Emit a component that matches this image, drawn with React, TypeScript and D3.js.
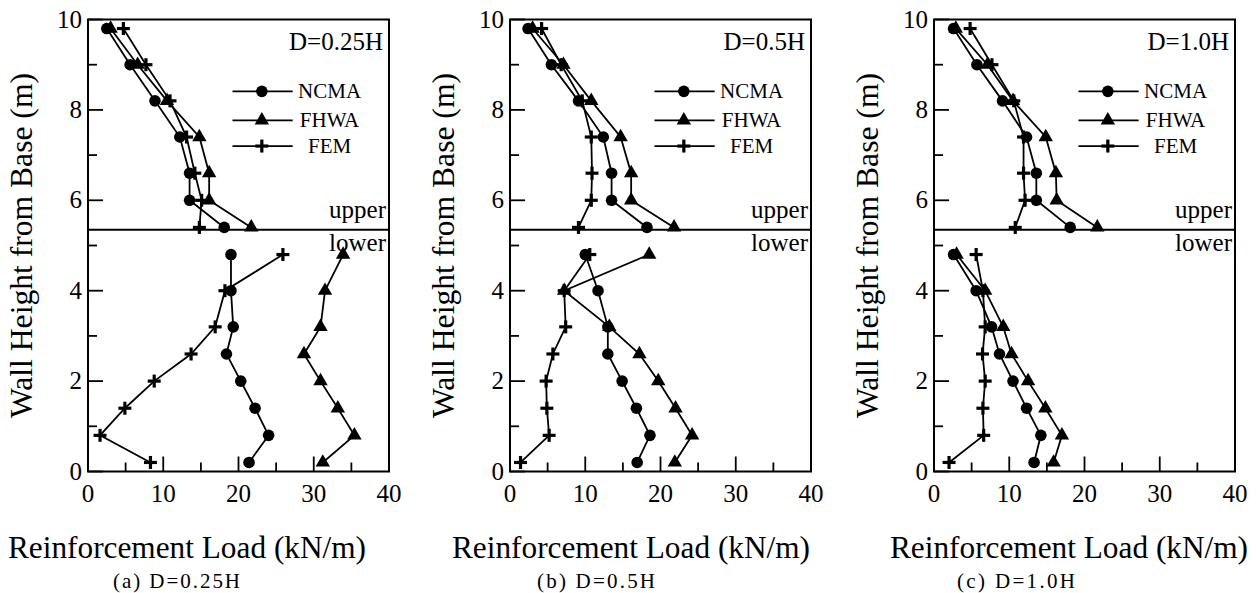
import * as d3 from 'd3'

// wall heights where loads were read (m)
const upperHeights = [9.8, 9.0, 8.2, 7.4, 6.6, 6.0, 5.4]
const lowerHeights = [4.8, 4.0, 3.2, 2.6, 2.0, 1.4, 0.8, 0.2]

// (a) D=0.25H
const ncmaUpperA = [2.5, 5.6, 8.9, 12.2, 13.5, 13.5, 18.1]
const ncmaLowerA = [19.0, 19.0, 19.3, 18.4, 20.3, 22.2, 24.0, 21.4]
const fhwaUpperA = [3.0, 6.6, 10.5, 14.8, 16.1, 16.1, 21.7]
const fhwaLowerA = [33.9, 31.5, 30.9, 28.7, 30.9, 33.2, 35.4, 31.2]
const femUpperA = [4.7, 7.7, 10.9, 13.1, 14.2, 15.1, 14.8]
const femLowerA = [25.9, 18.2, 16.9, 13.7, 8.8, 4.9, 1.6, 8.3]

// (b) D=0.5H
const ncmaUpperB = [2.4, 5.5, 9.1, 12.4, 13.5, 13.5, 18.2]
const ncmaLowerB = [10.0, 11.7, 13.0, 13.0, 14.9, 16.8, 18.6, 16.9]
const fhwaUpperB = [3.0, 7.1, 10.8, 14.7, 16.1, 16.1, 21.8]
const fhwaLowerB = [18.5, 7.2, 13.2, 17.2, 19.7, 22.0, 24.2, 21.9]
const femUpperB = [4.2, 6.8, 9.6, 10.8, 10.9, 10.8, 9.1]
const femLowerB = [10.6, 7.2, 7.4, 5.7, 4.8, 4.9, 5.2, 1.4]

// (c) D=1.0H
const ncmaUpperC = [2.6, 5.7, 9.1, 12.3, 13.6, 13.6, 18.1]
const ncmaLowerC = [2.6, 5.6, 7.65, 8.7, 10.5, 12.3, 14.2, 13.3]
const fhwaUpperC = [2.9, 7.1, 10.5, 14.85, 16.2, 16.3, 21.7]
const fhwaLowerC = [3.0, 6.8, 9.2, 10.3, 12.5, 14.8, 17.0, 15.9]
const femUpperC = [4.8, 7.7, 10.6, 11.9, 11.9, 12.1, 10.8]
const femLowerC = [5.6, 6.5, 6.8, 6.45, 6.8, 6.5, 6.6, 2.0]

const xTicks = [0, 10, 20, 30, 40]
const xMinor = [5, 15, 25, 35]
const yTicks = [0, 2, 4, 6, 8, 10]
const yMinor = [1, 3, 5, 7, 9]
const seriesNames = ['NCMA', 'FHWA', 'FEM']
const boundary = 5.35

const panels = [
  { left: 88, tag: 'D=0.25H', caption: '(a) D=0.25H', capX: 113, capW: 127, labelX: 8,
    upper: [ncmaUpperA, fhwaUpperA, femUpperA], lower: [ncmaLowerA, fhwaLowerA, femLowerA] },
  { left: 510, tag: 'D=0.5H', caption: '(b) D=0.5H', capX: 537, capW: 118, labelX: 452,
    upper: [ncmaUpperB, fhwaUpperB, femUpperB], lower: [ncmaLowerB, fhwaLowerB, femLowerB] },
  { left: 934, tag: 'D=1.0H', caption: '(c) D=1.0H', capX: 957, capW: 118, labelX: 890,
    upper: [ncmaUpperC, fhwaUpperC, femUpperC], lower: [ncmaLowerC, fhwaLowerC, femLowerC] },
]

const W = 301
const TOP = 19.5
const BOTTOM = 471.5
const serif = { fontFamily: "'Liberation Serif', 'Times New Roman', Times, serif" }

function Marker({ kind, x, y }: { kind: number; x: number; y: number }) {
  if (kind === 0) return <circle cx={x} cy={y} r={5.8} fill="#000" />
  if (kind === 1) {
    const tri = d3.symbol().type(d3.symbolTriangle).size(90)()
    return <path d={tri || ''} transform={`translate(${x},${y})`} fill="#000" />
  }
  return (
    <g stroke="#000" strokeWidth={3.2}>
      <line x1={x - 6.5} x2={x + 6.5} y1={y} y2={y} />
      <line x1={x} x2={x} y1={y - 6.5} y2={y + 6.5} />
    </g>
  )
}

function Panel({ p }: { p: typeof panels[number] }) {
  const x = d3.scaleLinear().domain([0, 40]).range([p.left, p.left + W])
  const y = d3.scaleLinear().domain([0, 10]).range([BOTTOM, TOP])
  const line = d3.line<[number, number]>().x(d => x(d[0])).y(d => y(d[1]))

  const groups = [
    { heights: upperHeights, sets: p.upper },
    { heights: lowerHeights, sets: p.lower },
  ]
  const legendY = [8.41, 7.77, 7.2]

  return (
    <g>
      {/* series lines */}
      {groups.map((g, gi) =>
        g.sets.map((vals, si) => (
          <path key={`l${gi}${si}`} d={line(vals.map((v, i) => [v, g.heights[i]])) || ''}
            fill="none" stroke="#000" strokeWidth={1.8} />
        ))
      )}
      {groups.map((g, gi) =>
        g.sets.map((vals, si) =>
          vals.map((v, i) => <Marker key={`m${gi}${si}${i}`} kind={si} x={x(v)} y={y(g.heights[i])} />)
        )
      )}

      {/* frame and ticks */}
      <rect x={x(0)} y={y(10)} width={x(40) - x(0)} height={y(0) - y(10)} fill="none" stroke="#000" strokeWidth={2} />
      <line x1={x(0)} x2={x(40)} y1={y(boundary)} y2={y(boundary)} stroke="#000" strokeWidth={2} />
      {yTicks.map(t => (
        <g key={`yt${t}`}>
          <line x1={x(0)} x2={x(0) + 15} y1={y(t)} y2={y(t)} stroke="#000" strokeWidth={1.8} />
          <text x={x(0) - 6} y={y(t) + 8} textAnchor="end" fontSize={25} style={serif}>{t}</text>
        </g>
      ))}
      {yMinor.map(t => (
        <line key={`ym${t}`} x1={x(0)} x2={x(0) + 9} y1={y(t)} y2={y(t)} stroke="#000" strokeWidth={1.8} />
      ))}
      {xTicks.map(t => (
        <g key={`xt${t}`}>
          <line x1={x(t)} x2={x(t)} y1={y(0)} y2={y(0) - 15} stroke="#000" strokeWidth={1.8} />
          <text x={x(t)} y={502} textAnchor="middle" fontSize={25} style={serif}>{t}</text>
        </g>
      ))}
      {xMinor.map(t => (
        <line key={`xm${t}`} x1={x(t)} x2={x(t)} y1={y(0)} y2={y(0) - 9} stroke="#000" strokeWidth={1.8} />
      ))}

      {/* annotations */}
      <text x={x(40) - 6} y={50} textAnchor="end" fontSize={25} style={serif}>{p.tag}</text>
      <text x={x(40) - 3} y={y(boundary) - 12} textAnchor="end" fontSize={25} style={serif}>upper</text>
      <text x={x(40) - 3} y={y(boundary) + 21} textAnchor="end" fontSize={25} style={serif}>lower</text>

      {/* legend */}
      {seriesNames.map((name, i) => (
        <g key={name}>
          <line x1={x(19.2)} x2={x(27.2)} y1={y(legendY[i])} y2={y(legendY[i])} stroke="#000" strokeWidth={1.8} />
          <Marker kind={i} x={x(23.1)} y={y(legendY[i])} />
          <text x={x(32.1)} y={y(legendY[i]) + 7} textAnchor="middle" fontSize={21} style={serif}>{name}</text>
        </g>
      ))}

      {/* axis titles */}
      <text transform={`translate(${p.left - 56},${(TOP + BOTTOM) / 2}) rotate(-90)`} textAnchor="middle"
        fontSize={31} textLength={345} lengthAdjust="spacingAndGlyphs" style={serif}>Wall Height from Base (m)</text>
      <text x={p.labelX} y={558} fontSize={31} textLength={358} lengthAdjust="spacingAndGlyphs" style={serif}>Reinforcement Load (kN/m)</text>
      <text x={p.capX} y={588} fontSize={21} textLength={p.capW} lengthAdjust="spacing" style={serif}>{p.caption}</text>
    </g>
  )
}

export default function App() {
  return (
    <svg width={1256} height={593} style={{ position: 'absolute', left: 0, top: 0, background: '#fff' }}>
      <rect width={1256} height={593} fill="#fff" />
      {panels.map(p => <Panel key={p.tag} p={p} />)}
    </svg>
  )
}
